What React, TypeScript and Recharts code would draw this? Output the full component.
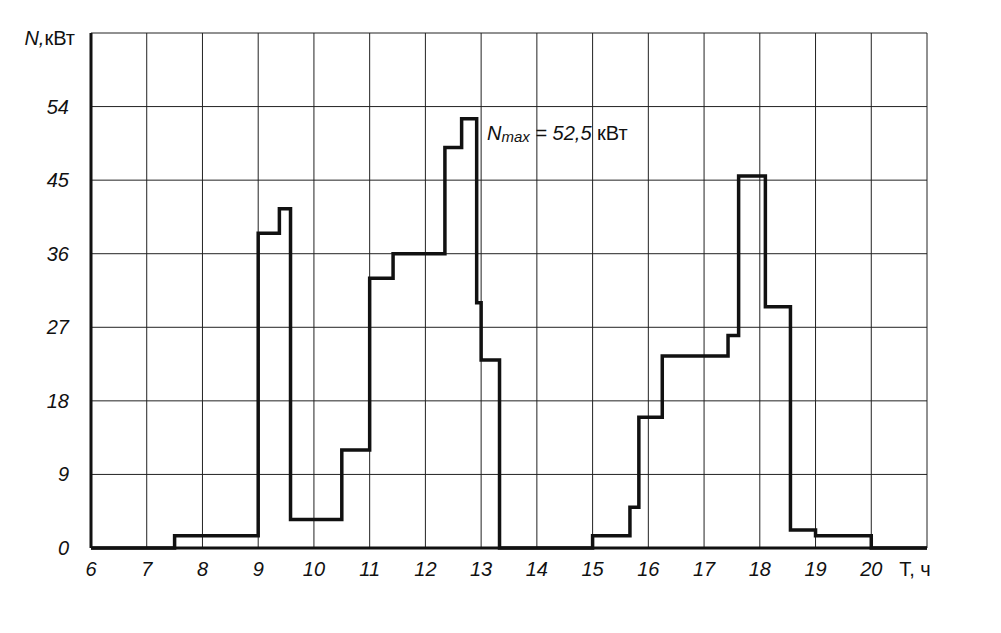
import React from "react";
import { LineChart, Line, XAxis, YAxis, CartesianGrid, ReferenceDot } from "recharts";

// moments (hours) where the load changes, and the load after each moment
const stepHours = [6, 7.5, 9, 9.38, 9.58, 10.5, 11, 11.42, 12.35, 12.65, 12.92, 13, 13.33, 15, 15.67, 15.83, 16.25, 17.43, 17.62, 18.1, 18.55, 19, 20, 21];
const loadKw = [0, 1.5, 38.5, 41.5, 3.5, 12, 33, 36, 49, 52.5, 30, 23, 0, 1.5, 5, 16, 23.5, 26, 45.5, 29.5, 2.2, 1.5, 0, 0];

const hourTicks = [6, 7, 8, 9, 10, 11, 12, 13, 14, 15, 16, 17, 18, 19, 20, 21];
const powerTicks = [0, 9, 18, 27, 36, 45, 54, 63];
const xAxisTitle = "T, ч";
const yAxisTitle = ["N,", "кВт"];
const peakHour = 12.8;
const peakKw = 52.5;

const data = stepHours.map((t, i) => ({ t, n: loadKw[i] }));

const font = "'Liberation Sans', Arial, sans-serif";

const XTick = (props: any) => {
  const { x, y, payload } = props;
  const last = payload.value === hourTicks[hourTicks.length - 1];
  return (
    <text x={last ? x - 12 : x} y={y + 13} textAnchor="middle" dominantBaseline="central"
      fontFamily={font} fontStyle={last ? "normal" : "italic"} fontSize={20} fill="#111">
      {last ? xAxisTitle : payload.value}
    </text>
  );
};

const YTick = (props: any) => {
  const { x, y, payload } = props;
  const top = payload.value === powerTicks[powerTicks.length - 1];
  if (top) {
    return (
      <text x={x + 6} y={y + 5} textAnchor="end" dominantBaseline="central"
        fontFamily={font} fontSize={20} fill="#111">
        <tspan fontStyle="italic">{yAxisTitle[0]}</tspan>
        <tspan>{yAxisTitle[1]}</tspan>
      </text>
    );
  }
  return (
    <text x={x} y={y} textAnchor="end" dominantBaseline="central"
      fontFamily={font} fontStyle="italic" fontSize={20} fill="#111">
      {payload.value}
    </text>
  );
};

const PeakNote = (props: any) => {
  const { viewBox } = props;
  const x = viewBox.x + 17;
  const y = viewBox.y + 14;
  return (
    <text x={x} y={y} dominantBaseline="central" fontFamily={font} fontStyle="italic" fontSize={20} fill="#111">
      <tspan>N</tspan>
      <tspan fontSize={15} dy={3}>max</tspan>
      <tspan dy={-3}>{` = ${String(peakKw).replace(".", ",")} `}</tspan>
      <tspan fontStyle="normal">кВт</tspan>
    </text>
  );
};

export default function App() {
  return (
    <div style={{ position: "absolute", left: 0, top: 0, background: "#fff" }}>
      <LineChart width={1001} height={633} data={data} margin={{ top: 33, right: 74, left: 31, bottom: 55 }}>
        <CartesianGrid stroke="#222" strokeWidth={1} />
        <XAxis type="number" dataKey="t" domain={[6, 21]} ticks={hourTicks} tick={<XTick />}
          tickLine={false} axisLine={{ stroke: "#111", strokeWidth: 3 }} height={30} interval={0} />
        <YAxis type="number" domain={[0, 63]} ticks={powerTicks} tick={<YTick />}
          tickLine={false} axisLine={{ stroke: "#111", strokeWidth: 3 }} width={60} tickMargin={16} interval={0} />
        <Line type="stepAfter" dataKey="n" stroke="#111" strokeWidth={3.5} dot={false} isAnimationActive={false} />
        <ReferenceDot x={peakHour} y={peakKw} r={0} stroke="none" label={<PeakNote />} />
      </LineChart>
    </div>
  );
}
